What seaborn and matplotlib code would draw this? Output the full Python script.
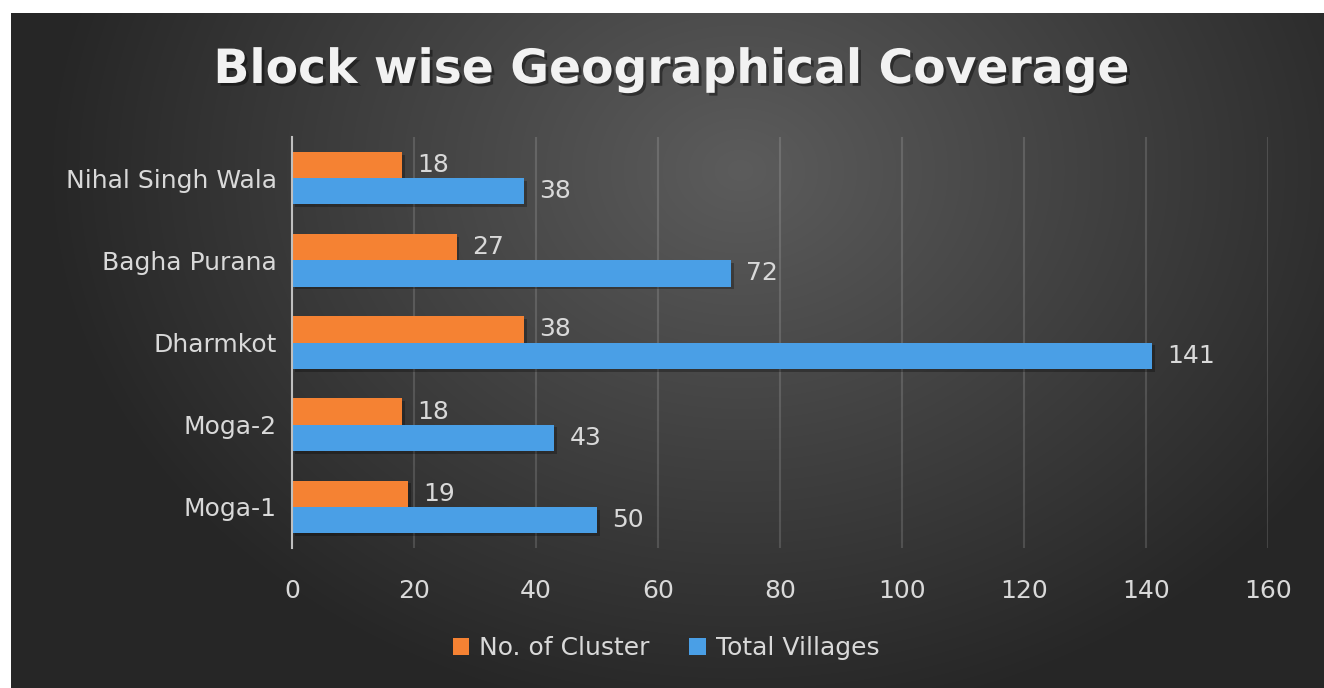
import numpy as np
import pandas as pd
import matplotlib
matplotlib.use("Agg")
import matplotlib.pyplot as plt
import matplotlib.patheffects as pe
import seaborn as sns

blocks = ["Nihal Singh Wala", "Bagha Purana", "Dharmkot", "Moga-2", "Moga-1"]
clusters = [18, 27, 38, 18, 19]
villages = [38, 72, 141, 43, 50]
series = ["No. of Cluster", "Total Villages"]
xticks = [0, 20, 40, 60, 80, 100, 120, 140, 160]

df = pd.DataFrame({"Block": blocks, series[0]: clusters, series[1]: villages})
long_df = df.melt(id_vars="Block", var_name="Series", value_name="Value")

sns.set_theme(style="dark")
plt.rcParams["font.family"] = ["DejaVu Sans"]
text_col = "#d9d9d9"
fs = 18

W, H = 1324, 688
fig = plt.figure(figsize=(W / 100, H / 100), dpi=100)
fig.patch.set_facecolor("white")

# dark radial background, white strip on top and left
bg = fig.add_axes([11 / W, 0, 1 - 11 / W, 1 - 13 / H], zorder=-5)
yy, xx = np.mgrid[13:H, 11:W]
r = np.sqrt(((xx - 740) / 700.0) ** 2 + ((yy - 170) / 560.0) ** 2)
v = (92 - 54 * np.clip(r, 0, 1)) / 255.0
bg.imshow(np.dstack([v, v, v]), aspect="auto", interpolation="bilinear")
bg.set_axis_off()

ax = fig.add_axes([292 / W, 140 / H, 976 / W, 411 / H])
ax.set_facecolor("none")
sns.barplot(data=long_df, x="Value", y="Block", hue="Series", orient="y",
            hue_order=series, palette=["#f58233", "#4a9fe6"],
            width=0.64, gap=0, saturation=1, linewidth=0, ax=ax)

shadow = [pe.SimplePatchShadow(offset=(2, -2), shadow_rgbFace="black", alpha=0.28), pe.Normal()]
for cont in ax.containers:
    for bar in cont:
        bar.set_path_effects(shadow)
    ax.bar_label(cont, padding=11, color=text_col, fontsize=fs)

ax.set_xlim(0, 160)
ax.set_xticks(xticks)
ax.set_xticklabels([str(t) for t in xticks])
ax.grid(axis="x", color="white", alpha=0.14, linewidth=1.5)
ax.grid(axis="y", visible=False)
for s in ["top", "right", "bottom"]:
    ax.spines[s].set_visible(False)
ax.spines["left"].set_color("#bfbfbf")
ax.spines["left"].set_linewidth(1.5)
ax.tick_params(axis="x", length=0, pad=22, labelsize=fs, labelcolor=text_col)
ax.tick_params(axis="y", length=0, pad=11, labelsize=fs, labelcolor=text_col)
ax.set_xlabel("")
ax.set_ylabel("")

ax.get_legend().remove()
handles, labels = ax.get_legend_handles_labels()
fig.legend(handles, labels, loc="center", bbox_to_anchor=(666 / W, 1 - 648 / H),
           ncol=2, frameon=False, fontsize=fs, labelcolor=text_col,
           handlelength=0.65, handleheight=0.65, handletextpad=0.4, columnspacing=1.6)

fig.text(672 / W, 1 - 83 / H, "Block wise Geographical Coverage", ha="center", va="baseline",
         fontsize=34, fontweight="bold", color="#f2f2f2", family="DejaVu Sans",
         path_effects=[pe.withSimplePatchShadow(offset=(2, -2), shadow_rgbFace="black", alpha=0.4)])

fig.savefig("out.png", dpi=100)
